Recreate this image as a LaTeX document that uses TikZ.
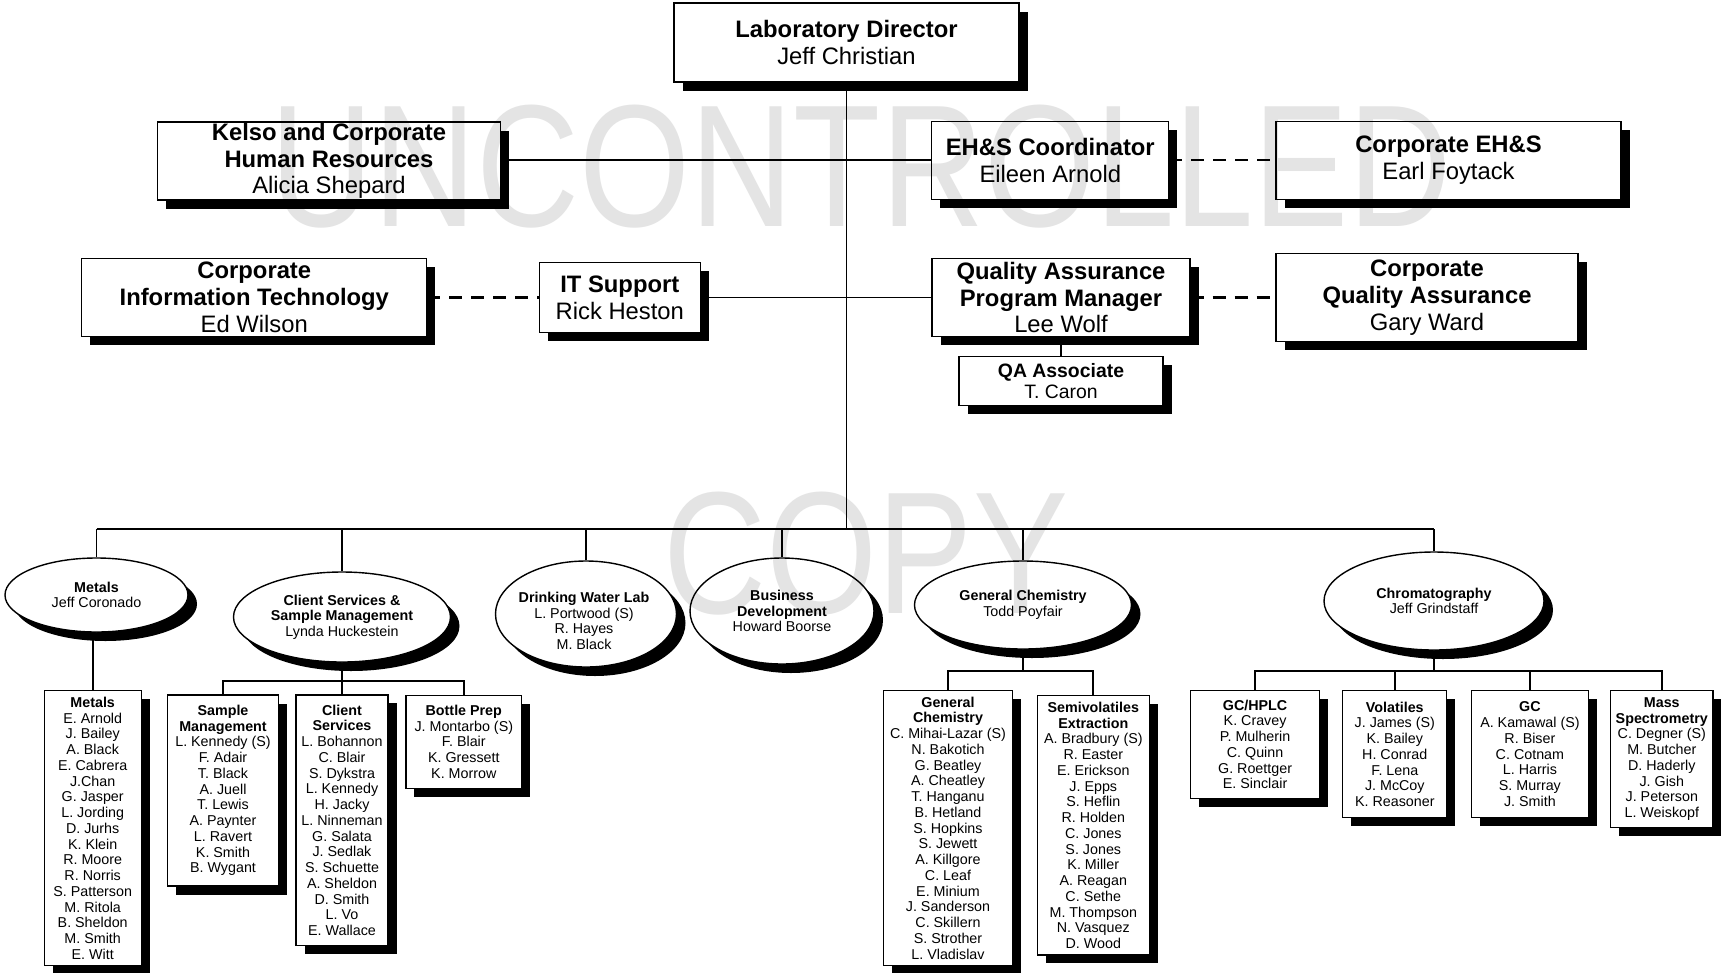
\documentclass[tikz,border=0pt]{standalone}
\usepackage{fontspec}
\setmainfont{Liberation Sans}
\usetikzlibrary{shadows,shapes.geometric}
\definecolor{wmgray}{RGB}{228,228,228}
\begin{document}
\begin{tikzpicture}[x=1pt,y=-1pt,
  box/.style={draw, line width=1.1pt, fill=white, inner sep=0pt, align=center,
    drop shadow={shadow xshift=8.5pt, shadow yshift=-8.5pt, fill=black, opacity=1}},
  big/.style={box, font=\fontsize{23.8}{26.7}\selectfont},
  mid/.style={box, font=\fontsize{19.4}{20.9}\selectfont},
  staff/.style={box, font=\fontsize{14.3}{15.75}\selectfont},
  oval/.style={ellipse, draw, line width=1.4pt, fill=white, inner sep=0pt, align=center,
    font=\fontsize{14.3}{15.5}\selectfont,
    drop shadow={shadow xshift=9pt, shadow yshift=-9pt, fill=black, opacity=1}},
  ovaltext/.style={inner sep=0pt, align=center, font=\fontsize{14.3}{15.5}\selectfont},
  conn/.style={line width=1.8pt},
  dashconn/.style={line width=2.2pt, dash pattern=on 13pt off 9pt},
  wmark/.style={font=\fontsize{174}{174}\selectfont, text=wmgray, xscale=0.82, anchor=base, inner sep=0pt}
]
\fill[white] (0,0) rectangle (1721,972);
\useasboundingbox (0,0) rectangle (1721,972);

% ---------- top level ----------
\node[big, minimum width=345pt, minimum height=79pt] (dir) at (846.5,42.5)
  {\textbf{Laboratory Director}\\Jeff Christian};
\node[big, minimum width=343pt, minimum height=78pt] (hr) at (329,161)
  {\textbf{Kelso and Corporate}\\\textbf{Human Resources}\\Alicia Shepard};
\node[big, minimum width=237pt, minimum height=78pt] (ehs) at (1050.3,160.2)
  {\textbf{EH\&S Coordinator}\\Eileen Arnold};
\node[big, minimum width=345pt, minimum height=78pt] (cehs) at (1448.5,160.2)
  {\textbf{Corporate EH\&S}\\Earl Foytack};
\node[big, minimum width=345pt, minimum height=78pt] (cit) at (254.3,297.5)
  {\textbf{Corporate}\\\textbf{Information Technology}\\Ed Wilson};
\node[big, minimum width=161.5pt, minimum height=70.4pt] (it) at (619.8,297.5)
  {\textbf{IT Support}\\Rick Heston};
\node[big, minimum width=258pt, minimum height=78pt] (qapm) at (1061,297.5)
  {\textbf{Quality Assurance}\\\textbf{Program Manager}\\Lee Wolf};
\node[big, minimum width=302pt, minimum height=88pt] (cqa) at (1427,297.5)
  {\textbf{Corporate}\\\textbf{Quality Assurance}\\Gary Ward};
\node[mid, minimum width=204pt, minimum height=49.4pt] (qaa) at (1061,381)
  {\textbf{QA Associate}\\T. Caron};

\coordinate (bus) at (0,529);
\coordinate (csbus) at (0,680.7);
\coordinate (gcbus) at (0,670.7);
\coordinate (chbus) at (0,670.7);

\draw[conn] (dir.south) -- (dir.south |- bus);
\draw[conn] (hr.east |- ehs.west) -- (ehs.west);
\draw[conn] (it.east) -- (qapm.west);
\draw[dashconn] (ehs.east) -- (cehs.west);
\draw[dashconn] (cit.east) -- (it.west);
\draw[dashconn] (qapm.east) -- (cqa.west);
\draw[conn] (qapm.south) -- (qaa.north);

% ---------- departments ----------
\node[oval, minimum width=183pt, minimum height=74pt] (metals) at (96.5,595)
  {\textbf{Metals}\\Jeff Coronado};
\node[oval, minimum width=217pt, minimum height=90pt] (cs) at (342,617)
  {\textbf{Client Services \&}\\\textbf{Sample Management}\\Lynda Huckestein};
\node[oval, minimum width=181pt, minimum height=106pt] (dw) at (586,614) {};
\node[ovaltext] (dwt) at (584,621)
  {\textbf{Drinking Water Lab}\\L. Portwood (S)\\R. Hayes\\M. Black};
\node[oval, minimum width=184pt, minimum height=106pt] (bd) at (782,611)
  {\textbf{Business}\\\textbf{Development}\\Howard Boorse};
\node[oval, minimum width=217pt, minimum height=88pt] (gc) at (1023,605)
  {\textbf{General Chemistry}\\Todd Poyfair};
\node[oval, minimum width=220pt, minimum height=98pt] (chrom) at (1434,601)
  {\textbf{Chromatography}\\Jeff Grindstaff};

\draw[conn] (metals.north |- bus) -- (chrom.north |- bus);
\foreach \n in {metals,cs,dw,bd,gc,chrom} \draw[conn] (\n.north) -- (\n.north |- bus);

% ---------- staff boxes ----------
\node[staff, minimum width=96.7pt, minimum height=275pt] (mbox) at (92.7,828.2)
  {\textbf{Metals}\\E. Arnold\\J. Bailey\\A. Black\\E. Cabrera\\J.Chan\\G. Jasper\\L. Jording\\D. Jurhs\\K. Klein\\R. Moore\\R. Norris\\S. Patterson\\M. Ritola\\B. Sheldon\\M. Smith\\E. Witt};
\node[staff, minimum width=110.6pt, minimum height=191pt] (smbox) at (223,790.5)
  {\textbf{Sample}\\\textbf{Management}\\L. Kennedy (S)\\F. Adair\\T. Black\\A. Juell\\T. Lewis\\A. Paynter\\L. Ravert\\K. Smith\\B. Wygant};
\node[staff, minimum width=92pt, minimum height=250.7pt] (csbox) at (342,820.3)
  {\textbf{Client}\\\textbf{Services}\\L. Bohannon\\C. Blair\\S. Dykstra\\L. Kennedy\\H. Jacky\\L. Ninneman\\G. Salata\\J. Sedlak\\S. Schuette\\A. Sheldon\\D. Smith\\L. Vo\\E. Wallace};
\node[staff, minimum width=115.7pt, minimum height=93.3pt] (bpbox) at (463.8,741.7)
  {\textbf{Bottle Prep}\\J. Montarbo (S)\\F. Blair\\K. Gressett\\K. Morrow};
\node[staff, minimum width=129.4pt, minimum height=274.3pt] (gcbox) at (948,827.9)
  {\textbf{General}\\\textbf{Chemistry}\\C. Mihai-Lazar (S)\\N. Bakotich\\G. Beatley\\A. Cheatley\\T. Hanganu\\B. Hetland\\S. Hopkins\\S. Jewett\\A. Killgore\\C. Leaf\\E. Minium\\J. Sanderson\\C. Skillern\\S. Strother\\L. Vladislav};
\node[staff, minimum width=112pt, minimum height=259.3pt] (svbox) at (1093.3,825.3)
  {\textbf{Semivolatiles}\\\textbf{Extraction}\\A. Bradbury (S)\\R. Easter\\E. Erickson\\J. Epps\\S. Heflin\\R. Holden\\C. Jones\\S. Jones\\K. Miller\\A. Reagan\\C. Sethe\\M. Thompson\\N. Vasquez\\D. Wood};
\node[staff, minimum width=129.4pt, minimum height=107.6pt] (hplc) at (1255.1,744.5)
  {\textbf{GC/HPLC}\\K. Cravey\\P. Mulherin\\C. Quinn\\G. Roettger\\E. Sinclair};
\node[staff, minimum width=103.8pt, minimum height=127pt] (vol) at (1394.8,754.2)
  {\textbf{Volatiles}\\J. James (S)\\K. Bailey\\H. Conrad\\F. Lena\\J. McCoy\\K. Reasoner};
\node[staff, minimum width=116.6pt, minimum height=127pt] (gcx) at (1529.9,754.2)
  {\textbf{GC}\\A. Kamawal (S)\\R. Biser\\C. Cotnam\\L. Harris\\S. Murray\\J. Smith};
\node[staff, minimum width=102.4pt, minimum height=136.6pt] (ms) at (1661.8,759)
  {\textbf{Mass}\\\textbf{Spectrometry}\\C. Degner (S)\\M. Butcher\\D. Haderly\\J. Gish\\J. Peterson\\L. Weiskopf};

% sub-tree connectors
\draw[conn] (mbox.north) -- (mbox.north |- metals.south);
\draw[conn] (cs.south) -- (cs.south |- csbus);
\draw[conn] (smbox.north) -- (smbox.north |- csbus) -- (bpbox.north |- csbus) -- (bpbox.north);
\draw[conn] (csbox.north) -- (csbox.north |- csbus);
\draw[conn] (gc.south) -- (gc.south |- gcbus);
\draw[conn] (gcbox.north) -- (gcbox.north |- gcbus) -- (svbox.north |- gcbus) -- (svbox.north);
\draw[conn] (chrom.south) -- (chrom.south |- chbus);
\draw[conn] (hplc.north) -- (hplc.north |- chbus) -- (ms.north |- chbus) -- (ms.north);
\draw[conn] (vol.north) -- (vol.north |- chbus);
\draw[conn] (gcx.north) -- (gcx.north |- chbus);

% ---------- watermark ----------
\begin{scope}[blend mode=multiply]
\node[wmark] (wm1) at (861.5,226.7) {UNCONTROLLED};
\node[wmark] (wm2) at (866,613) {COPY};
\end{scope}
\end{tikzpicture}
\end{document}
